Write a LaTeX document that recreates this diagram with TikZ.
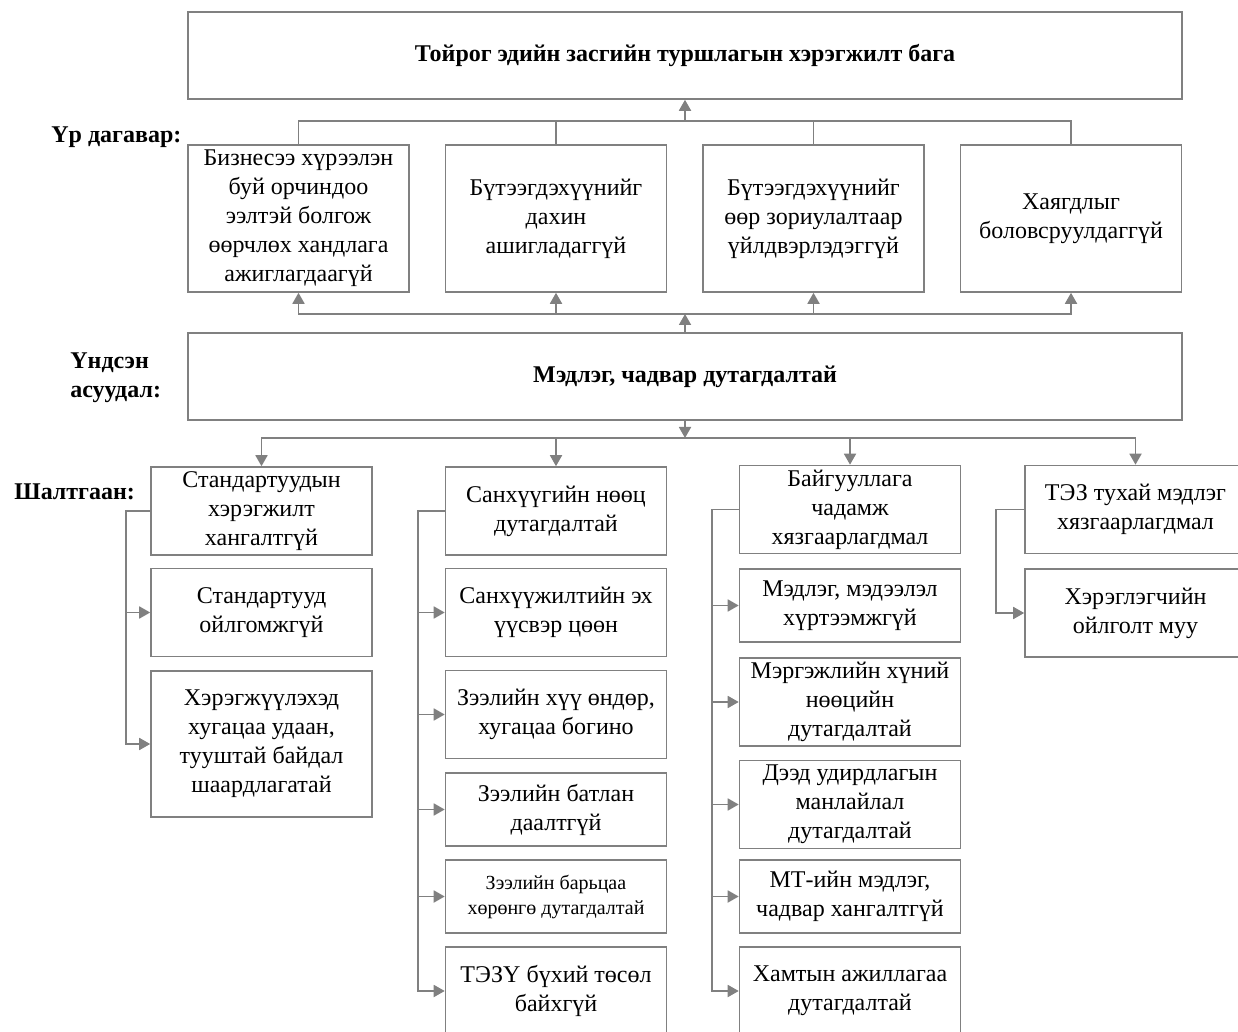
\documentclass[tikz,border=0pt]{standalone}
\usepackage{fontspec}
\setmainfont{Liberation Serif}
\usetikzlibrary{arrows.meta, positioning}
\definecolor{linegray}{RGB}{128,128,128}

\begin{document}
\begin{tikzpicture}[
  x=0.5pt, y=-0.5pt,
  font=\fontsize{12}{14.5}\selectfont,
  box/.style={draw=linegray, line width=0.8pt, minimum width=110.5pt,
              minimum height=#1, align=center, inner sep=1pt},
  box/.default=44pt,
  wide/.style={draw=linegray, line width=0.8pt, minimum width=497pt,
               minimum height=43.5pt,
               font=\fontsize{12}{14.5}\selectfont\bfseries},
  lbl/.style={anchor=west, align=left, inner sep=0pt,
              font=\fontsize{12}{14.5}\selectfont\bfseries},
  conn/.style={linegray, line width=0.9pt},
  arr/.style={conn, -{Triangle[length=5.5pt, width=6pt]}}
]
  \useasboundingbox (0,0) rectangle (1238,1032);

  \node[wide] (top) at (685,55.5) {Тойрог эдийн засгийн туршлагын хэрэгжилт бага};
  \node[wide] (main) at (685,376.5) {Мэдлэг, чадвар дутагдалтай};

  \node[lbl] (lr) at (51,137) {Үр дагавар:};
  \node[lbl] (lc) at (70,378) {Үндсэн\\асуудал:};
  \node[lbl] (ls) at (14,492) {Шалтгаан:};

  \node[box=73.5pt] (e1) at (298.5,218.5)
    {Бизнесээ хүрээлэн\\буй орчиндоо\\ээлтэй болгож\\өөрчлөх хандлага\\ажиглагдаагүй};
  \node[box=73.5pt] (e2) at (556,218.5) {Бүтээгдэхүүнийг\\дахин\\ашигладаггүй};
  \node[box=73.5pt] (e3) at (813.5,218.5) {Бүтээгдэхүүнийг\\өөр зориулалтаар\\үйлдвэрлэдэггүй};
  \node[box=73.5pt] (e4) at (1071,218.5) {Хаягдлыг\\боловсруулдаггүй};

  \node[box] (s1) at (261.5,511) {Стандартуудын\\хэрэгжилт\\хангалтгүй};
  \node[box] (s2) at (261.5,612.5) {Стандартууд\\ойлгомжгүй};
  \node[box=73pt] (s3) at (261.5,744)
    {Хэрэгжүүлэхэд\\хугацаа удаан,\\тууштай байдал\\шаардлагатай};

  \node[box] (f1) at (556,511) {Санхүүгийн нөөц\\дутагдалтай};
  \node[box] (f2) at (556,612.5) {Санхүүжилтийн эх\\үүсвэр цөөн};
  \node[box] (f3) at (556,714.5) {Зээлийн хүү өндөр,\\хугацаа богино};
  \node[box=36.5pt] (f4) at (556,809.5) {Зээлийн батлан\\даалтгүй};
  \node[box=36.5pt, font=\fontsize{10}{12.5}\selectfont] (f5) at (556,896.5)
    {Зээлийн барьцаа\\хөрөнгө дутагдалтай};
  \node[box] (f6) at (556,991) {ТЭЗҮ бүхий төсөл\\байхгүй};

  \node[box] (o1) at (850,509.5) {Байгууллага\\чадамж\\хязгаарлагдмал};
  \node[box=36.5pt] (o2) at (850,605.5) {Мэдлэг, мэдээлэл\\хүртээмжгүй};
  \node[box] (o3) at (850,702) {Мэргэжлийн хүний\\нөөцийн\\дутагдалтай};
  \node[box] (o4) at (850,804.5) {Дээд удирдлагын\\манлайлал\\дутагдалтай};
  \node[box=36.5pt] (o5) at (850,896.5) {МТ-ийн мэдлэг,\\чадвар хангалтгүй};
  \node[box] (o6) at (850,991) {Хамтын ажиллагаа\\дутагдалтай};

  \node[box] (t1) at (1135.5,509.5) {ТЭЗ тухай мэдлэг\\хязгаарлагдмал};
  \node[box] (t2) at (1135.5,613) {Хэрэглэгчийн\\ойлголт муу};

  \coordinate (ej) at (685,121);
  \coordinate (mj) at (685,314);
  \coordinate (cj) at (685,438);

  \draw[conn] (e1.north) |- (ej) -| (e4.north);
  \draw[conn] (e2.north) -- (e2.north |- ej);
  \draw[conn] (e3.north) -- (e3.north |- ej);
  \draw[arr] (ej) -- (top.south);

  \draw[arr] (main.north) -- (mj);
  \foreach \n in {e1,e2,e3,e4}
    \draw[arr] (mj) -| (\n.south);

  \draw[arr] (main.south) -- (cj);
  \foreach \n in {s1,f1,o1,t1}
    \draw[arr] (cj) -| (\n.north);

  \foreach \n in {s2,s3}
    \draw[arr] (s1.west) -- ++(-24,0) |- (\n.west);
  \foreach \n in {f2,f3,f4,f5,f6}
    \draw[arr] (f1.west) -- ++(-27,0) |- (\n.west);
  \foreach \n in {o2,o3,o4,o5,o6}
    \draw[arr] (o1.west) -- ++(-27,0) |- (\n.west);
  \draw[arr] (t1.west) -- ++(-28,0) |- (t2.west);
\end{tikzpicture}
\end{document}
